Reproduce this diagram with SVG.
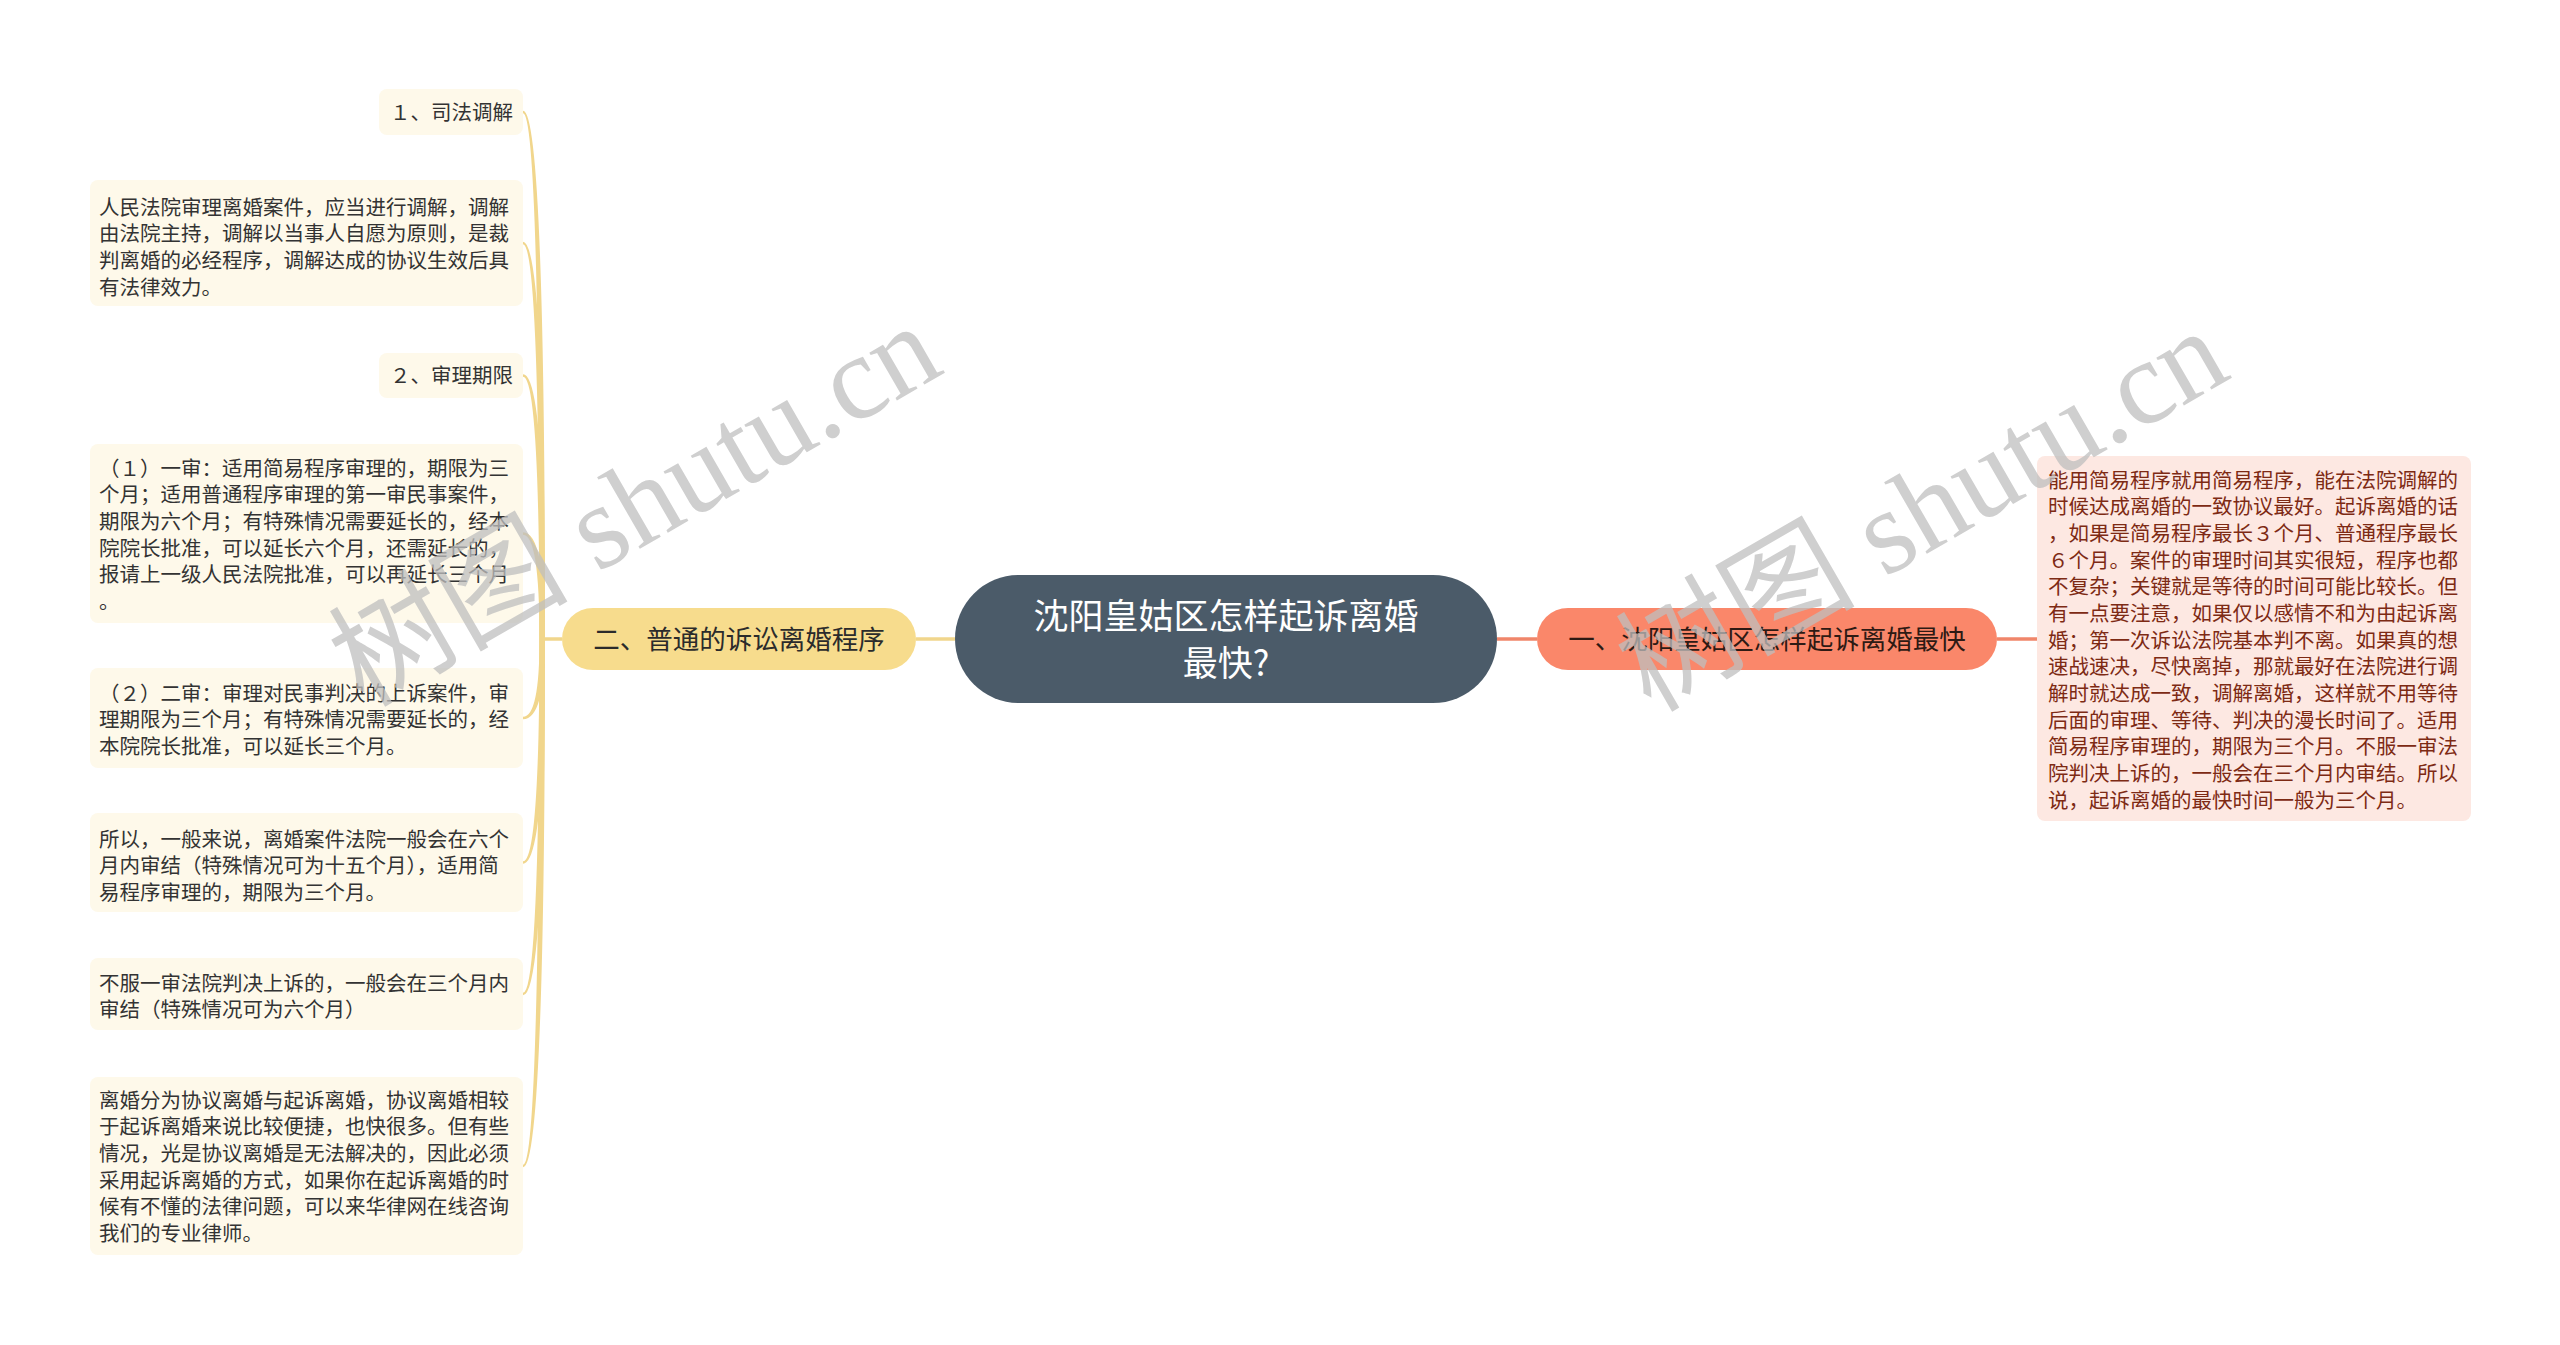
<svg xmlns="http://www.w3.org/2000/svg" width="2560" height="1345" viewBox="0 0 2560 1345">
<style>
text{font-family:"Noto Sans CJK SC","Noto Sans",sans-serif;}
.lbox{fill:#fef9ea;}
.ltxt{font-size:20.5px;fill:#333333;}
.rtxt{font-size:20.5px;fill:#7d2a14;white-space:pre;}
.ycon{fill:#f1d68c;}
.yline{stroke:#f1d68c;stroke-width:3.5;fill:none;}
.sline{stroke:#f0866a;stroke-width:3.5;fill:none;}
.wm{fill:#bfbfbf;opacity:0.75;}
</style>
<rect width="2560" height="1345" fill="#ffffff"/>
<g id="connectors">
<line class="sline" x1="1497" y1="639" x2="1537" y2="639"/>
<line class="sline" x1="1997" y1="639" x2="2037" y2="639"/>
<line class="yline" x1="916" y1="639" x2="955" y2="639"/>
<line class="yline" x1="540" y1="639" x2="562" y2="639"/>
<path class="ycon" d="M523 110.8 Q545 110.8 545 639 L539.5 639 Q539.5 113.2 523 113.2 Z"/>
<path class="ycon" d="M523 241.8 Q545 241.8 545 639 L539.5 639 Q539.5 244.2 523 244.2 Z"/>
<path class="ycon" d="M523 374.3 Q545 374.3 545 639 L539.5 639 Q539.5 376.7 523 376.7 Z"/>
<path class="ycon" d="M523 532.3 Q545 532.3 545 639 L539.5 639 Q539.5 534.7 523 534.7 Z"/>
<path class="ycon" d="M523 719.2 Q545 719.2 545 639 L539.5 639 Q539.5 716.8 523 716.8 Z"/>
<path class="ycon" d="M523 863.7 Q545 863.7 545 639 L539.5 639 Q539.5 861.3 523 861.3 Z"/>
<path class="ycon" d="M523 995.2 Q545 995.2 545 639 L539.5 639 Q539.5 992.8 523 992.8 Z"/>
<path class="ycon" d="M523 1167.2 Q545 1167.2 545 639 L539.5 639 Q539.5 1164.8 523 1164.8 Z"/>
</g>
<g id="root">
<rect x="955" y="575" width="542" height="128" rx="64" fill="#4b5b69"/>
<text x="1226" y="628.5" text-anchor="middle" font-size="35" fill="#ffffff">沈阳皇姑区怎样起诉离婚</text>
<text x="1226" y="676" text-anchor="middle" font-size="35" fill="#ffffff">最快?</text>
</g>
<g id="branch-right">
<rect x="1537" y="608" width="460" height="62" rx="31" fill="#fa876a"/>
<text x="1767" y="649" text-anchor="middle" font-size="26.5" fill="#2e1a14">一、沈阳皇姑区怎样起诉离婚最快</text>
</g>
<g id="right-detail">
<rect x="2037" y="456" width="434" height="365" rx="8" fill="#fde8e2"/>
<text class="rtxt" x="2048" y="487.5">能用简易程序就用简易程序，能在法院调解的</text>
<text class="rtxt" x="2048" y="514.2">时候达成离婚的一致协议最好。起诉离婚的话</text>
<text class="rtxt" x="2048" y="540.8">，如果是简易程序最长３个月、普通程序最长</text>
<text class="rtxt" x="2048" y="567.5">６个月。案件的审理时间其实很短，程序也都</text>
<text class="rtxt" x="2048" y="594.2">不复杂；关键就是等待的时间可能比较长。但</text>
<text class="rtxt" x="2048" y="620.8">有一点要注意，如果仅以感情不和为由起诉离</text>
<text class="rtxt" x="2048" y="647.5">婚；第一次诉讼法院基本判不离。如果真的想</text>
<text class="rtxt" x="2048" y="674.2">速战速决，尽快离掉，那就最好在法院进行调</text>
<text class="rtxt" x="2048" y="700.8">解时就达成一致，调解离婚，这样就不用等待</text>
<text class="rtxt" x="2048" y="727.5">后面的审理、等待、判决的漫长时间了。适用</text>
<text class="rtxt" x="2048" y="754.2">简易程序审理的，期限为三个月。不服一审法</text>
<text class="rtxt" x="2048" y="780.8">院判决上诉的，一般会在三个月内审结。所以</text>
<text class="rtxt" x="2048" y="807.5">说，起诉离婚的最快时间一般为三个月。</text>
</g>
<g id="branch-left">
<rect x="562" y="608" width="354" height="62" rx="31" fill="#f7dc8d"/>
<text x="739" y="649" text-anchor="middle" font-size="26.5" fill="#2b2b2b">二、普通的诉讼离婚程序</text>
</g>
<g id="left-1">
<rect class="lbox" x="379" y="89" width="144" height="46" rx="8"/>
<text class="ltxt" x="513" y="119.5" text-anchor="end">１、司法调解</text>
</g>
<g id="left-2">
<rect class="lbox" x="90" y="180" width="433" height="126" rx="8"/>
<text class="ltxt" x="99" y="214.5">人民法院审理离婚案件，应当进行调解，调解</text>
<text class="ltxt" x="99" y="241.2">由法院主持，调解以当事人自愿为原则，是裁</text>
<text class="ltxt" x="99" y="267.8">判离婚的必经程序，调解达成的协议生效后具</text>
<text class="ltxt" x="99" y="294.5">有法律效力。</text>
</g>
<g id="left-3">
<rect class="lbox" x="379" y="353" width="144" height="45" rx="8"/>
<text class="ltxt" x="513" y="383" text-anchor="end">２、审理期限</text>
</g>
<g id="left-4">
<rect class="lbox" x="90" y="444" width="433" height="179" rx="8"/>
<text class="ltxt" x="99" y="475.5">（１）一审：适用简易程序审理的，期限为三</text>
<text class="ltxt" x="99" y="502.2">个月；适用普通程序审理的第一审民事案件，</text>
<text class="ltxt" x="99" y="528.8">期限为六个月；有特殊情况需要延长的，经本</text>
<text class="ltxt" x="99" y="555.5">院院长批准，可以延长六个月，还需延长的，</text>
<text class="ltxt" x="99" y="582.2">报请上一级人民法院批准，可以再延长三个月</text>
<text class="ltxt" x="99" y="608.8">。</text>
</g>
<g id="left-5">
<rect class="lbox" x="90" y="668" width="433" height="100" rx="8"/>
<text class="ltxt" x="99" y="700.5">（２）二审：审理对民事判决的上诉案件，审</text>
<text class="ltxt" x="99" y="727.2">理期限为三个月；有特殊情况需要延长的，经</text>
<text class="ltxt" x="99" y="753.8">本院院长批准，可以延长三个月。</text>
</g>
<g id="left-6">
<rect class="lbox" x="90" y="813" width="433" height="99" rx="8"/>
<text class="ltxt" x="99" y="846.5">所以，一般来说，离婚案件法院一般会在六个</text>
<text class="ltxt" x="99" y="873.2">月内审结（特殊情况可为十五个月），适用简</text>
<text class="ltxt" x="99" y="899.8">易程序审理的，期限为三个月。</text>
</g>
<g id="left-7">
<rect class="lbox" x="90" y="958" width="433" height="72" rx="8"/>
<text class="ltxt" x="99" y="990.5">不服一审法院判决上诉的，一般会在三个月内</text>
<text class="ltxt" x="99" y="1017.2">审结（特殊情况可为六个月）</text>
</g>
<g id="left-8">
<rect class="lbox" x="90" y="1077" width="433" height="178" rx="8"/>
<text class="ltxt" x="99" y="1107.5">离婚分为协议离婚与起诉离婚，协议离婚相较</text>
<text class="ltxt" x="99" y="1134.2">于起诉离婚来说比较便捷，也快很多。但有些</text>
<text class="ltxt" x="99" y="1160.8">情况，光是协议离婚是无法解决的，因此必须</text>
<text class="ltxt" x="99" y="1187.5">采用起诉离婚的方式，如果你在起诉离婚的时</text>
<text class="ltxt" x="99" y="1214.2">候有不懂的法律问题，可以来华律网在线咨询</text>
<text class="ltxt" x="99" y="1240.8">我们的专业律师。</text>
</g>
<g id="watermarks">
<text class="wm" transform="translate(655 540) rotate(-30)" text-anchor="middle" font-size="120" style="font-family:'Liberation Serif','Noto Sans CJK SC',serif">树图 shutu.cn</text>
<text class="wm" transform="translate(1942 545) rotate(-30)" text-anchor="middle" font-size="120" style="font-family:'Liberation Serif','Noto Sans CJK SC',serif">树图 shutu.cn</text>
</g>
</svg>
